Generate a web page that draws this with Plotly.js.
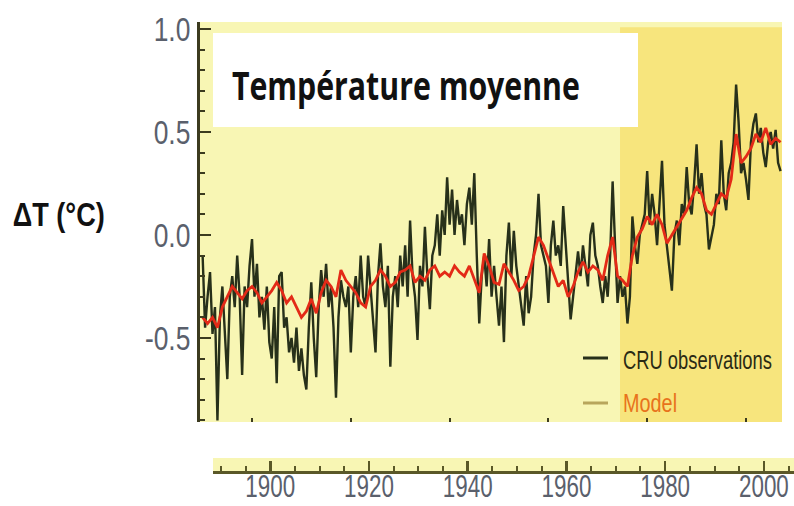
<!DOCTYPE html>
<html><head><meta charset="utf-8">
<script src="https://cdn.plot.ly/plotly-3.0.1.min.js"></script>
<style>html,body{margin:0;padding:0;background:#fff;}#chart{width:794px;height:506px;}</style>
</head><body><div id="chart"></div>
<script>
const chartTitle = 'Température moyenne';
const yLabel = 'ΔT (°C)';
const seriesNames = ['CRU observations', 'Model'];

// CRU observations, two readings per year (Jan / Jul), 1890.0 .. 2007.0
const obsStartYear = 1890;
const obsStep = 0.5;
const cruObservations = [
  -0.10,-0.45, -0.30,-0.18, -0.48,-0.35, -0.90,-0.40, -0.25,-0.45,
  -0.70,-0.30, -0.20,-0.35, -0.10,-0.30, -0.68,-0.25, -0.35,-0.15,
  -0.02,-0.30, -0.14,-0.40, -0.30,-0.46, -0.25,-0.52, -0.60,-0.35,
  -0.72,-0.20, -0.18,-0.45, -0.40,-0.57, -0.50,-0.62, -0.45,-0.66,
  -0.55,-0.68, -0.75,-0.45, -0.23,-0.50, -0.69,-0.35, -0.17,-0.30,
  -0.14,-0.35, -0.25,-0.45, -0.79,-0.40, -0.22,-0.30, -0.35,-0.25,
  -0.57,-0.30, -0.20,-0.35, -0.10,-0.30, -0.35,-0.10, -0.25,-0.40,
  -0.57,-0.20, -0.04,-0.25, -0.35,-0.15, -0.64,-0.30, -0.20,-0.35,
  -0.10,-0.25, -0.05,-0.30, 0.07,-0.20, -0.30,-0.51, -0.15,-0.25,
  0.04,-0.20, -0.36,-0.10, -0.05,0.10, -0.10,0.12, 0.00,0.28,
  0.05,0.22, 0.00,0.17, 0.05,0.10, -0.05,0.15, 0.23,0.05,
  0.30,-0.10, -0.43,-0.20, -0.10,-0.25, -0.02,-0.30, -0.15,-0.30,
  -0.44,-0.25, -0.52,-0.10, 0.06,-0.20, 0.02,-0.15, -0.25,-0.35,
  -0.44,-0.20, -0.38,-0.30, -0.10,0.00, 0.20,-0.05, -0.10,-0.15,
  -0.33,-0.05, 0.07,-0.10, -0.05,-0.15, 0.14,-0.05, -0.25,-0.41,
  -0.30,-0.20, -0.08,-0.20, -0.05,-0.15, -0.25,0.00, 0.06,-0.10,
  -0.15,-0.25, -0.33,-0.20, -0.30,-0.10, 0.26,-0.05, -0.33,-0.20,
  -0.30,-0.25, -0.43,-0.30, 0.09,-0.05, -0.14,0.00, 0.05,0.10,
  0.31,0.05, 0.20,0.10, -0.05,0.15, 0.36,0.05, -0.05,-0.15,
  -0.27,0.00, 0.07,-0.05, 0.15,0.10, 0.33,0.15, 0.10,0.25,
  0.44,0.20, 0.30,0.15, 0.10,-0.07, 0.00,0.05, 0.20,0.15,
  0.46,0.20, 0.12,0.30, 0.35,0.45, 0.73,0.55, 0.30,0.35,
  0.27,0.17, 0.45,0.54, 0.59,0.45, 0.52,0.40, 0.33,0.45,
  0.50,0.42, 0.51,0.35, 0.31
];

// Model, one value per year, 1890 .. 2007
const modelStartYear = 1890;
const modelValues = [
  -0.40,-0.43,-0.40,-0.45,-0.35,-0.30,-0.25,-0.28,-0.31,-0.27,
  -0.25,-0.28,-0.33,-0.30,-0.27,-0.23,-0.27,-0.33,-0.30,-0.35,
  -0.40,-0.37,-0.31,-0.38,-0.28,-0.22,-0.25,-0.30,-0.17,-0.22,
  -0.25,-0.28,-0.33,-0.35,-0.25,-0.22,-0.17,-0.20,-0.25,-0.23,
  -0.18,-0.17,-0.15,-0.23,-0.20,-0.22,-0.17,-0.15,-0.20,-0.18,
  -0.20,-0.15,-0.18,-0.20,-0.15,-0.22,-0.28,-0.09,-0.15,-0.23,
  -0.24,-0.14,-0.18,-0.22,-0.27,-0.25,-0.20,-0.10,-0.01,-0.05,
  -0.12,-0.18,-0.25,-0.22,-0.30,-0.25,-0.18,-0.13,-0.18,-0.15,
  -0.17,-0.22,-0.10,-0.01,-0.20,-0.22,-0.25,-0.10,-0.01,0.03,
  0.09,0.05,0.10,0.05,-0.04,0.00,0.04,0.08,0.12,0.18,
  0.23,0.20,0.12,0.10,0.15,0.20,0.18,0.27,0.49,0.35,
  0.38,0.42,0.49,0.45,0.52,0.44,0.47,0.45
];

const xTickValues = [1900, 1920, 1940, 1960, 1980, 2000];
const xTickLabels = ['1900', '1920', '1940', '1960', '1980', '2000'];
const yTickValues = [-0.5, 0.0, 0.5, 1.0];
const yTickLabels = ['-0.5', '0.0', '0.5', '1.0'];
const recentPeriodStart = 1974.5;

const obsYears = cruObservations.map((_, i) => obsStartYear + i * obsStep);
const modelYears = modelValues.map((_, i) => modelStartYear + i);

const W = 794, H = 506;
const px = v => v / W;
const py = v => 1 - v / H;

const sans = '"Liberation Sans", Arial, sans-serif';
const axisColor = '#3c3b1f';
const stripColor = '#5a5828';
const tickTextColor = '#5a606c';

const traces = [
  { x: obsYears, y: cruObservations, type: 'scatter', mode: 'lines', name: seriesNames[0],
    line: { color: '#27301a', width: 2.4 }, showlegend: false, hoverinfo: 'skip' },
  { x: modelYears, y: modelValues, type: 'scatter', mode: 'lines', name: seriesNames[1],
    line: { color: '#e32a17', width: 2.8 }, showlegend: false, hoverinfo: 'skip' },
  { x: [], y: [], xaxis: 'x2', yaxis: 'y2', type: 'scatter', showlegend: false, hoverinfo: 'skip' }
];

const layout = {
  width: W, height: H,
  margin: { l: 0, r: 0, t: 0, b: 0 },
  paper_bgcolor: '#ffffff',
  plot_bgcolor: '#f8f6b4',
  showlegend: false,
  xaxis: {
    domain: [px(200), px(782)], range: [1889.47, 2007.29],
    showline: false, showgrid: false, zeroline: false,
    ticks: 'inside', ticklen: 4, tickwidth: 2, tickcolor: axisColor,
    tickvals: xTickValues, showticklabels: false, anchor: 'y'
  },
  yaxis: {
    domain: [py(422), py(22)], range: [-0.908, 1.034],
    showline: true, linecolor: axisColor, linewidth: 3,
    showgrid: false, zeroline: false,
    ticks: 'inside', ticklen: 11, tickwidth: 2.5, tickcolor: axisColor,
    tickvals: yTickValues, ticktext: yTickLabels,
    tickfont: { family: sans, size: 33, color: tickTextColor },
    ticklabelstandoff: 0,
    minor: { dtick: 0.1, ticks: 'inside', ticklen: 5, tickwidth: 2, tickcolor: axisColor },
    anchor: 'x'
  },
  xaxis2: {
    domain: [px(213), 1], range: [1888.4, 2006.1], anchor: 'y2',
    showline: true, linecolor: stripColor, linewidth: 3,
    showgrid: false, zeroline: false,
    ticks: 'inside', ticklen: 10, tickwidth: 2.5, tickcolor: stripColor,
    tickvals: xTickValues, ticktext: xTickLabels,
    tickfont: { family: sans, size: 32, color: tickTextColor },
    ticklabeloverflow: 'allow',
    ticklabelstandoff: -15,
    minor: { dtick: 5, ticks: 'inside', ticklen: 5, tickwidth: 2, tickcolor: stripColor }
  },
  yaxis2: {
    domain: [py(471), py(458)], range: [0, 1], anchor: 'x2',
    visible: false, showgrid: false, zeroline: false
  },
  shapes: [
    { type: 'rect', xref: 'x', yref: 'y domain', x0: recentPeriodStart, x1: 2010, y0: 0, y1: 0.987,
      fillcolor: '#f7e57d', line: { width: 0 }, layer: 'below' },
    { type: 'rect', xref: 'paper', yref: 'paper', x0: px(213), x1: px(638), y0: py(127), y1: py(33),
      fillcolor: '#ffffff', line: { width: 0 }, layer: 'below' },
    { type: 'line', xref: 'paper', yref: 'paper', x0: px(583), x1: px(608), y0: py(358), y1: py(358),
      line: { color: '#27301a', width: 3 } },
    { type: 'line', xref: 'paper', yref: 'paper', x0: px(583), x1: px(608), y0: py(403), y1: py(403),
      line: { color: '#b8a65c', width: 3 } }
  ],
  annotations: [
    { text: chartTitle, xref: 'paper', yref: 'paper', x: px(406), y: py(84), xanchor: 'center', yanchor: 'middle',
      showarrow: false, font: { family: '"Open Sans", "Noto Sans", sans-serif', size: 40, color: '#111111', weight: 'bold' } },
    { text: yLabel, xref: 'paper', yref: 'paper', x: px(59), y: py(214), xanchor: 'center', yanchor: 'middle',
      showarrow: false, font: { family: sans, size: 34, color: '#111111', weight: 'bold' } },
    { text: seriesNames[0], xref: 'paper', yref: 'paper', x: px(697), y: py(360), xanchor: 'center', yanchor: 'middle',
      showarrow: false, font: { family: sans, size: 25, color: '#2a2a14' } },
    { text: seriesNames[1], xref: 'paper', yref: 'paper', x: px(650), y: py(403), xanchor: 'center', yanchor: 'middle',
      showarrow: false, font: { family: sans, size: 25, color: '#e8731c' } }
  ]
};

// target widths (px) of the condensed lettering in the reference
const annotationWidths = [348, 92, 149, 54];
const yTickSqueeze = 0.8;
const xTickSqueeze = 0.7;

function squeeze(el, target) {
  el.setAttribute('lengthAdjust', 'spacingAndGlyphs');
  el.setAttribute('textLength', target.toFixed(1));
}

Plotly.newPlot('chart', traces, layout, { staticPlot: true, displayModeBar: false }).then(gd => {
  gd.querySelectorAll('.ytick text').forEach(t => squeeze(t, t.getComputedTextLength() * yTickSqueeze));
  gd.querySelectorAll('.x2tick text').forEach(t => squeeze(t, t.getComputedTextLength() * xTickSqueeze));
  annotationWidths.forEach((w, i) => {
    const t = gd.querySelector('.annotation[data-index="' + i + '"] .annotation-text');
    if (t) squeeze(t, w);
  });
});
</script>
</body></html>
